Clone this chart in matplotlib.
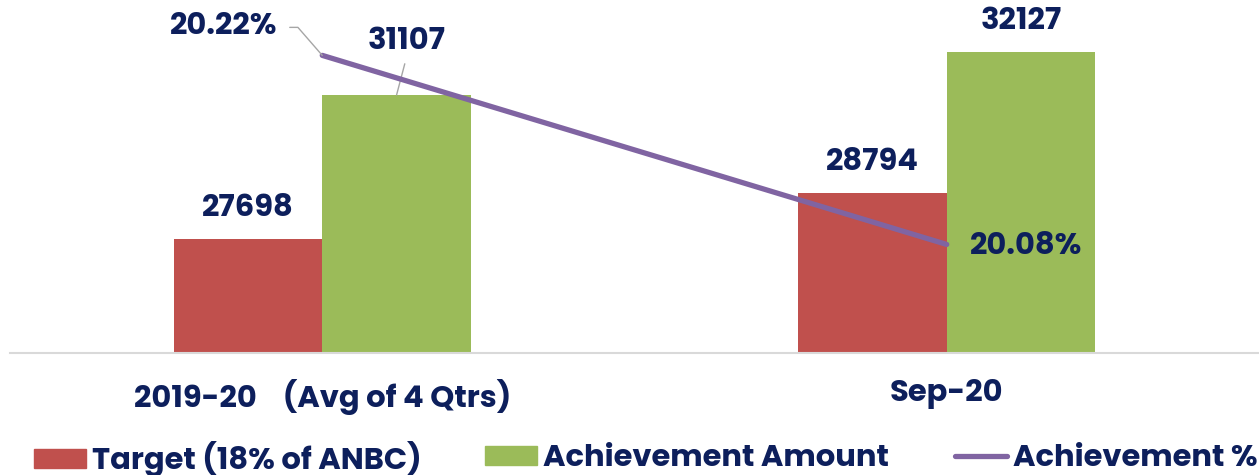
import matplotlib
matplotlib.use("Agg")
import matplotlib.pyplot as plt
from matplotlib.patches import Patch
from matplotlib.lines import Line2D
import numpy as np

categories = ["2019-20    (Avg of 4 Qtrs)", "Sep-20"]
target = [27698, 28794]
achievement = [31107, 32127]
achievement_pct = [20.22, 20.08]
series_names = ["Target (18% of ANBC)", "Achievement Amount", "Achievement %"]

RED = "#C0504D"
GREEN = "#9BBB59"
PURPLE = "#8064A2"
NAVY = "#0D1F5C"
FONT = ["Poppins", "Lato", "DejaVu Sans"]
FS = 22

plt.rcParams["font.family"] = FONT
plt.rcParams["font.weight"] = "bold"

W, H = 1259, 475
fig = plt.figure(figsize=(W / 100, H / 100), dpi=100)
ax = fig.add_axes([10 / W, (H - 352.5) / H, (W - 10) / W, 352.5 / H])

x = np.arange(len(categories))
bw = 0.238
ax.bar(x - bw / 2, target, bw, color=RED, zorder=2)
ax.bar(x + bw / 2, achievement, bw, color=GREEN, zorder=2)
ax.set_xlim(-0.5, 1.5)
ax.set_ylim(25000, 33360)

for s in ["top", "left", "right"]:
    ax.spines[s].set_visible(False)
ax.spines["bottom"].set_color("#D9D9D9")
ax.spines["bottom"].set_linewidth(1.5)
ax.set_yticks([])
ax.set_xticks(x)
ax.set_xticklabels(categories, fontsize=FS, fontweight="bold", color=NAVY)
ax.tick_params(axis="x", length=0, pad=19)

ax2 = ax.twinx()
ax2.set_ylim(20.0, 20.261)
ax2.set_yticks([])
for s in ax2.spines.values():
    s.set_visible(False)
ax2.plot(x, achievement_pct, color=PURPLE, lw=3.8, solid_capstyle="round", zorder=3)

lbl = dict(ha="center", va="center", fontsize=FS, fontweight="bold", color=NAVY)
# bar labels
ax.annotate(f"{target[0]}", (x[0] - bw / 2, target[0]), xytext=(0, 30), textcoords="offset pixels", **lbl)
ax.annotate(f"{target[1]}", (x[1] - bw / 2, target[1]), xytext=(0, 30), textcoords="offset pixels", **lbl)
ax.annotate(f"{achievement[1]}", (x[1] + bw / 2, achievement[1]), xytext=(0, 30),
            textcoords="offset pixels", **lbl)
ax.annotate(f"{achievement[0]}", (x[0] + bw / 2, achievement[0]), xytext=(10, 53),
            textcoords="offset pixels", zorder=5,
            arrowprops=dict(arrowstyle="-", color="#A6A6A6", lw=1.0, shrinkA=3, shrinkB=0,
                            relpos=(0.5, 0)), **lbl)

# percentage labels
ax2.annotate(f"{achievement_pct[0]:.2f}%", (x[0], achievement_pct[0]), xytext=(-45, 28),
             textcoords="offset pixels", ha="right", va="center", fontsize=FS, fontweight="bold",
             color=NAVY, zorder=5,
             arrowprops=dict(arrowstyle="-", color="#A6A6A6", lw=1.0, shrinkA=7, shrinkB=0,
                             relpos=(1, 0.5), connectionstyle="angle,angleA=0,angleB=131,rad=0"))
ax2.annotate(f"{achievement_pct[1]:.2f}%", (x[1], achievement_pct[1]), xytext=(23, -3),
             textcoords="offset pixels", ha="left", va="center", fontsize=FS, fontweight="bold",
             color=NAVY, zorder=5)

# legend entries
em = FS / 0.72
handles = [Patch(color=RED), Patch(color=GREEN),
           Line2D([], [], color=PURPLE, lw=3.8, solid_capstyle="round")]
lefts = [34, 485, 955]
for h, name, lx in zip(handles, series_names, lefts):
    leg = fig.legend([h], [name], loc="center left", bbox_to_anchor=(lx / W, 1 - 459 / H),
                     frameon=False, borderpad=0, borderaxespad=0, handlelength=52 / em,
                     handleheight=18 / em, handletextpad=6 / em,
                     prop=dict(family=FONT, size=FS, weight="bold"))
    for t in leg.get_texts():
        t.set_color(NAVY)

fig.savefig("out.png", dpi=100)
